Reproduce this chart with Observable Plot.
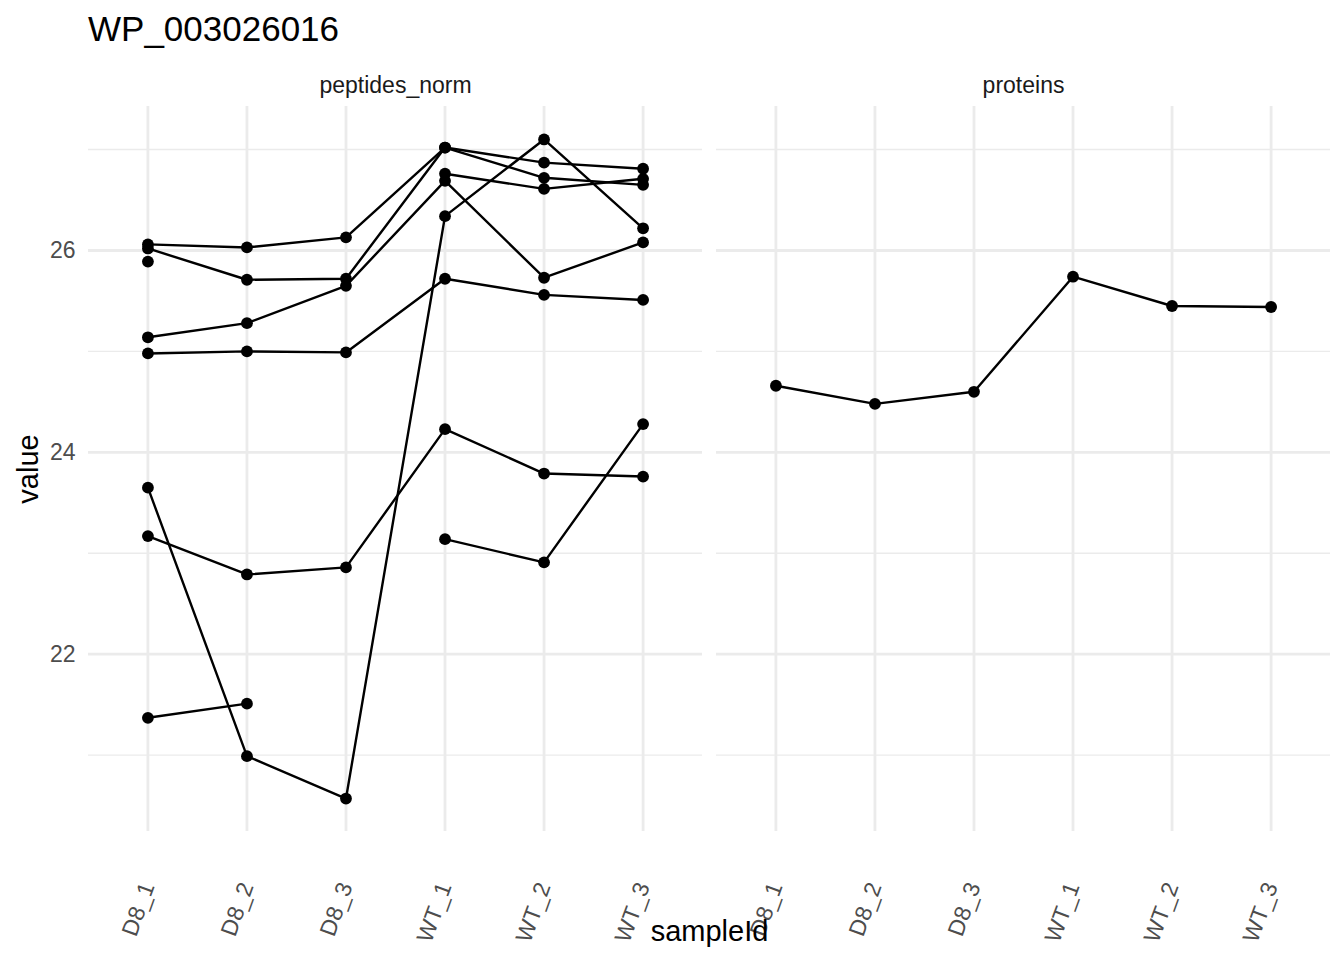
<!DOCTYPE html>
<html><head><meta charset="utf-8">
<script src="https://cdn.jsdelivr.net/npm/d3@7"></script>
<script src="https://cdn.jsdelivr.net/npm/@observablehq/plot@0.6"></script>
<style>
body{margin:0;background:#fff;font-family:"Liberation Sans",Arial,Helvetica,sans-serif;}
#title{height:50px;padding-left:88px;padding-top:11px;box-sizing:border-box;font-size:35px;line-height:1;color:#000;}
</style></head><body>
<div id="title">WP_003026016</div>
<div id="chart"></div>
<script>
const samples = ["D8_1","D8_2","D8_3","WT_1","WT_2","WT_3"];
const panels = ["peptides_norm","proteins"];
const pep1 = [26.06, 26.03, 26.13, 27.02, 26.87, 26.81];
const pep2 = [26.02, 25.71, 25.72, 27.02, 26.72, 26.65];
const pep3 = [25.14, 25.28, 25.65, 26.69, 25.73, 26.08];
const pep4 = [25.89, null, null, 26.76, 26.61, 26.71];
const pep5 = [24.98, 25.00, 24.99, 25.72, 25.56, 25.51];
const pep6 = [23.65, 20.99, 20.57, 26.34, 27.10, 26.22];
const pep7 = [23.17, 22.79, 22.86, 24.23, 23.79, 23.76];
const pep8 = [21.37, 21.51, null, 23.14, 22.91, 24.28];
const protein = [24.66, 24.48, 24.60, 25.74, 25.45, 25.44];
const yMajor = [22, 24, 26];
const yMinor = [21, 23, 25, 27];

const series = [
  {panel: "peptides_norm", id: "p1", values: pep1},
  {panel: "peptides_norm", id: "p2", values: pep2},
  {panel: "peptides_norm", id: "p3", values: pep3},
  {panel: "peptides_norm", id: "p4", values: pep4},
  {panel: "peptides_norm", id: "p5", values: pep5},
  {panel: "peptides_norm", id: "p6", values: pep6},
  {panel: "peptides_norm", id: "p7", values: pep7},
  {panel: "peptides_norm", id: "p8", values: pep8},
  {panel: "proteins", id: "prot", values: protein}
];
const table = series.flatMap(s => s.values.map((v, i) => ({panel: s.panel, series: s.id, sample: samples[i], value: v})));
const allVals = table.map(d => d.value).filter(v => v != null);
const lo = d3.min(allVals), hi = d3.max(allVals), ex = 0.05 * (hi - lo);

const grid = "#ebebeb";
const chart = Plot.plot({
  width: 1344,
  height: 910,
  marginLeft: 88,
  marginRight: 14,
  marginTop: 56,
  marginBottom: 129,
  style: {fontFamily: '"Liberation Sans", Arial, Helvetica, sans-serif', background: "#fff"},
  fx: {domain: panels, paddingInner: 14 / 628, paddingOuter: 0, round: false},
  x: {type: "point", domain: samples, padding: 0.6, round: false},
  y: {domain: [lo - ex, hi + ex]},
  marks: [
    Plot.gridX({stroke: grid, strokeOpacity: 1, strokeWidth: 2.8}),
    Plot.gridY(yMinor, {stroke: grid, strokeOpacity: 1, strokeWidth: 1.4}),
    Plot.gridY(yMajor, {stroke: grid, strokeOpacity: 1, strokeWidth: 2.8}),
    Plot.axisFx({anchor: "top", tickSize: 0, tickPadding: 14, label: null, fontSize: 23, color: "#1a1a1a"}),
    Plot.axisY(yMajor, {tickSize: 0, tickPadding: 13, tickFormat: "d", label: null, fontSize: 23, color: "#4d4d4d"}),
    Plot.axisX({tickSize: 0, tickPadding: 52, tickRotate: -70, label: null, fontSize: 23, color: "#4d4d4d"}),
    Plot.line(table, {fx: "panel", x: "sample", y: "value", z: "series", stroke: "black", strokeWidth: 2.4}),
    Plot.dot(table.filter(d => d.value != null), {fx: "panel", x: "sample", y: "value", r: 5.9, fill: "black"}),
    Plot.text(["value"], {fx: () => panels[0], frameAnchor: "left", dx: -60, rotate: -90, fontSize: 29, fill: "black", textAnchor: "middle"}),
    Plot.text(["sampleId"], {fx: () => panels[0], frameAnchor: "bottom-right", dx: 7, dy: 109, fontSize: 29, fill: "black", textAnchor: "middle"})
  ]
});
document.getElementById("chart").appendChild(chart);
</script>
</body></html>
